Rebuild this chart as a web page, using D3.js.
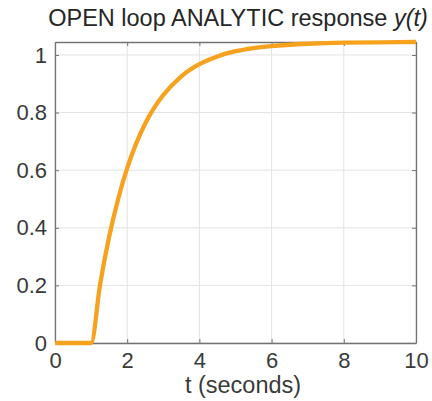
<!DOCTYPE html>
<html>
<head>
<meta charset="utf-8">
<script src="https://cdn.jsdelivr.net/npm/d3@7"></script>
<style>
  body { margin: 0; background: #fff; }
  text { font-family: "Liberation Sans", Arial, sans-serif; }
</style>
</head>
<body>
<div id="chart"></div>
<script>
// response
let times  = [0, 1, 1.25, 1.5, 1.75, 2, 2.25, 2.5, 2.75, 3, 3.5, 4, 4.5, 5, 5.5, 6, 7, 8, 9, 10];
let values = [0, 0, 0.204, 0.369, 0.500, 0.607, 0.693, 0.762, 0.817, 0.861, 0.926, 0.968, 0.995, 1.013, 1.024, 1.031, 1.039, 1.043, 1.044, 1.045];
let xTicks = [0, 2, 4, 6, 8, 10];
let yTicks = [0, 0.2, 0.4, 0.6, 0.8, 1];

let w = 432, h = 401;
let mLeft = 55, mRight = 416, mTop = 42, mBottom = 343;

const svg = d3.select("#chart")
              .append("svg")
              .attr("width", w)
              .attr("height", h);

const x = d3.scaleLinear().domain([0, 10]).range([mLeft, mRight]);
const y = d3.scaleLinear().domain([0, 1.045]).range([mBottom, mTop]);

// grid
svg.append("g")
   .selectAll("line")
   .data(xTicks)
   .enter()
   .append("line")
   .attr("x1", d => x(d)).attr("x2", d => x(d))
   .attr("y1", mTop).attr("y2", mBottom)
   .attr("stroke", "#e3e3e3").attr("stroke-width", 1);

svg.append("g")
   .selectAll("line")
   .data(yTicks)
   .enter()
   .append("line")
   .attr("x1", mLeft).attr("x2", mRight)
   .attr("y1", d => y(d)).attr("y2", d => y(d))
   .attr("stroke", "#e3e3e3").attr("stroke-width", 1);

// axes (ticks inward, box on)
const axCol = "#737373";
const fmt = d => d3.format("")(d);

function style(g) {
  g.select(".domain").attr("stroke", axCol).attr("stroke-width", 1.3);
  g.selectAll(".tick line").attr("stroke", axCol);
  g.selectAll(".tick text").attr("fill", "#3a3a3a").style("font-size", "22px");
}

svg.append("g")
   .attr("transform", `translate(0,${mBottom})`)
   .call(d3.axisBottom(x).tickValues(xTicks).tickSize(-4).tickSizeOuter(0).tickPadding(9).tickFormat(fmt))
   .call(style);

svg.append("g")
   .attr("transform", `translate(${mLeft},0)`)
   .call(d3.axisLeft(y).tickValues(yTicks).tickSize(-4).tickSizeOuter(0).tickPadding(8).tickFormat(fmt))
   .call(style);

svg.append("g")
   .attr("transform", `translate(0,${mTop})`)
   .call(d3.axisTop(x).tickValues(xTicks).tickSize(-4).tickSizeOuter(0).tickFormat(""))
   .call(style);

svg.append("g")
   .attr("transform", `translate(${mRight},0)`)
   .call(d3.axisRight(y).tickValues(yTicks).tickSize(-4).tickSizeOuter(0).tickFormat(""))
   .call(style);

// response curve
const line = d3.line()
               .x((d, i) => x(times[i]))
               .y(d => y(d))
               .curve(d3.curveMonotoneX);

svg.append("path")
   .datum(values)
   .attr("d", line)
   .attr("fill", "none")
   .attr("stroke", "#f6a21e")
   .attr("stroke-width", 4.3)
   .attr("stroke-linejoin", "round");

// labels
let title = svg.append("text")
   .attr("x", 238)
   .attr("y", 26)
   .attr("text-anchor", "middle")
   .attr("fill", "#262626")
   .style("font-size", "23.5px");
title.append("tspan").text("OPEN loop ANALYTIC response ");
title.append("tspan").style("font-style", "italic").text("y(t)");

svg.append("text")
   .attr("x", 243)
   .attr("y", 393)
   .attr("text-anchor", "middle")
   .attr("fill", "#3a3a3a")
   .style("font-size", "23.5px")
   .text("t (seconds)");
</script>
</body>
</html>
